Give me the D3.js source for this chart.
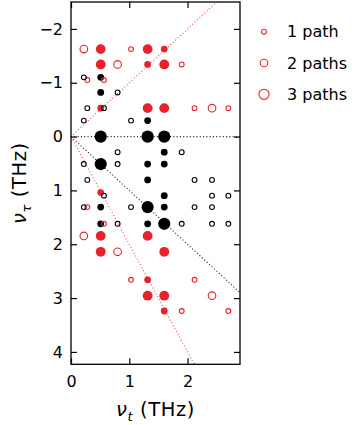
<!DOCTYPE html>
<html>
<head>
    <title>Paths map</title>
    <style>
        body { margin: 0; background: #fff; }
        svg text { font-family: "DejaVu Sans", sans-serif; font-size: 16px; fill: #000; }
        .frame { fill: none; stroke: #000; stroke-width: 1.3px; }
        .tick line { stroke: #000; stroke-width: 1.2px; }
        .guide { fill: none; stroke-width: 1.1px; stroke-dasharray: 1.1,2.2; }
        .axis-label { font-size: 19.5px; letter-spacing: 0.6px; }
    </style>
</head>
<body>
<div id="chart"></div>

<script src="https://d3js.org/d3.v7.min.js"></script>
<script>
    // [nu_t, nu_tau, number of paths]
    const filledRed = [
        [0.51, -1.625, 2], [1.315, -1.625, 2], [1.60, -1.625, 1],
        [0.51, -1.34, 2], [1.315, -1.34, 1], [1.60, -1.34, 2],
        [0.51, -0.528, 1], [1.315, -0.528, 2], [1.60, -0.528, 2],
        [0.51, 1.04, 1],
        [0.51, 1.845, 2], [1.315, 1.845, 2],
        [0.51, 2.14, 2], [1.60, 2.14, 2],
        [1.315, 2.66, 1],
        [1.315, 2.955, 2], [1.60, 2.955, 2],
        [1.60, 3.24, 1]
    ];

    const filledBlack = [
        [0.51, -1.10, 1],
        [0.51, -0.82, 1],
        [1.315, -0.297, 1],
        [0.51, 0, 3], [1.315, 0, 3], [1.60, 0, 3],
        [1.60, 0.29, 1],
        [0.51, 0.51, 3], [1.315, 0.51, 1], [1.60, 0.51, 1],
        [1.315, 0.805, 1],
        [1.60, 1.097, 1],
        [0.51, 1.31, 1], [1.315, 1.31, 3], [1.60, 1.31, 1],
        [0.51, 1.62, 1], [1.315, 1.62, 1], [1.60, 1.62, 3]
    ];

    const openRed = [
        [0.22, -1.625, 2], [1.03, -1.625, 1],
        [0.80, -1.34, 2], [1.90, -1.34, 1],
        [0.28, -1.05, 1], [0.565, -1.05, 1],
        [2.12, -0.528, 1], [2.42, -0.528, 2], [2.70, -0.528, 1],
        [0.28, 1.31, 1],
        [0.565, 1.62, 1],
        [0.22, 1.845, 2],
        [0.80, 2.14, 2],
        [1.03, 2.66, 1], [2.12, 2.66, 1],
        [2.42, 2.955, 2],
        [1.90, 3.24, 1], [2.70, 3.24, 1]
    ];

    const openBlack = [
        [0.22, -1.10, 1],
        [0.80, -0.82, 1],
        [0.28, -0.528, 1], [0.565, -0.528, 1],
        [0.22, -0.297, 1], [1.03, -0.297, 1],
        [0.80, 0.29, 1], [1.90, 0.29, 1],
        [0.22, 0.51, 1], [0.80, 0.51, 1],
        [0.28, 0.805, 1], [2.12, 0.805, 1], [2.42, 0.805, 1],
        [0.565, 1.097, 1], [2.42, 1.097, 1], [2.70, 1.097, 1],
        [0.22, 1.31, 1], [1.03, 1.31, 1], [2.12, 1.31, 1], [2.42, 1.31, 1],
        [0.80, 1.62, 1], [1.90, 1.62, 1], [2.42, 1.62, 1], [2.70, 1.62, 1]
    ];

    // dotted guides nu_tau = slope * nu_t
    const guides = [
        { slope: 0, color: "#000" },
        { slope: 1, color: "#000" },
        { slope: -1, color: "#e8222a" },
        { slope: 2, color: "#e8222a" }
    ];

    const legendLabels = ["1 path", "2 paths", "3 paths"];
    const xTicks = [0, 1, 2];
    const yTicks = [-2, -1, 0, 1, 2, 3, 4];

    const red = "#e8222a";
    const filledR = [0, 3.4, 4.9, 6.1];
    const openR = [0, 2.4, 3.8, 5.1];

    const width = 357, height = 425;
    const margin = { left: 71, top: 2, right: 117, bottom: 60.7 };
    const w = width - margin.left - margin.right;
    const h = height - margin.top - margin.bottom;

    const x = d3.scaleLinear().domain([0, 2.9]).range([0, w]);
    const y = d3.scaleLinear().domain([-2.5, 4.23]).range([0, h]);

    const svg = d3.select("#chart").append("svg")
        .attr("width", width)
        .attr("height", height);

    svg.append("defs").append("clipPath").attr("id", "plotClip")
        .append("rect").attr("width", w).attr("height", h);

    const g = svg.append("g")
        .attr("transform", `translate(${margin.left},${margin.top})`);

    const plot = g.append("g").attr("clip-path", "url(#plotClip)");

    plot.selectAll("line.guide")
        .data(guides)
        .enter().append("line")
        .attr("class", "guide")
        .attr("stroke", d => d.color)
        .attr("stroke-opacity", d => d.color === "#000" ? 0.85 : 0.75)
        .attr("x1", x(0))
        .attr("y1", y(0))
        .attr("x2", x(2.9))
        .attr("y2", d => y(d.slope * 2.9));

    function drawFilled(data, color) {
        plot.append("g").selectAll("circle")
            .data(data)
            .enter().append("circle")
            .attr("cx", d => x(d[0]))
            .attr("cy", d => y(d[1]))
            .attr("r", d => filledR[d[2]])
            .attr("fill", color);
    }

    function drawOpen(data, color) {
        plot.append("g").selectAll("circle")
            .data(data)
            .enter().append("circle")
            .attr("cx", d => x(d[0]))
            .attr("cy", d => y(d[1]))
            .attr("r", d => openR[d[2]])
            .attr("fill", "none")
            .attr("stroke", color)
            .attr("stroke-width", 1.1);
    }

    drawFilled(filledRed, red);
    drawFilled(filledBlack, "#000");
    drawOpen(openRed, red);
    drawOpen(openBlack, "#000");

    // axes, ticks pointing inward on all four sides
    const tick = 6;
    g.append("g")
        .attr("transform", `translate(0,${h})`)
        .call(d3.axisBottom(x).tickValues(xTicks).tickFormat(d3.format("d"))
            .tickSizeInner(-tick).tickSizeOuter(0).tickPadding(11))
        .call(a => a.select(".domain").remove());

    g.append("g")
        .call(d3.axisTop(x).tickValues(xTicks).tickFormat("")
            .tickSizeInner(-tick).tickSizeOuter(0))
        .call(a => a.select(".domain").remove());

    g.append("g")
        .call(d3.axisLeft(y).tickValues(yTicks).tickFormat(d3.format("d"))
            .tickSizeInner(-tick).tickSizeOuter(0).tickPadding(8))
        .call(a => a.select(".domain").remove());

    g.append("g")
        .attr("transform", `translate(${w},0)`)
        .call(d3.axisRight(y).tickValues(yTicks).tickFormat("")
            .tickSizeInner(-tick).tickSizeOuter(0))
        .call(a => a.select(".domain").remove());

    // let the css font apply to tick labels
    g.selectAll("g").attr("font-family", null).attr("font-size", null);

    g.append("rect")
        .attr("class", "frame")
        .attr("width", w)
        .attr("height", h);

    // axis labels
    const xl = svg.append("text")
        .attr("class", "axis-label")
        .attr("x", margin.left + w / 2)
        .attr("y", 416)
        .attr("text-anchor", "middle");
    xl.append("tspan").attr("font-style", "italic").text("ν");
    xl.append("tspan").attr("font-style", "italic").attr("font-size", "13px").attr("dy", 5).text("t");
    xl.append("tspan").attr("dy", -5).text(" (THz)");

    const yl = svg.append("text")
        .attr("class", "axis-label")
        .attr("transform", `translate(26,${margin.top + h / 2}) rotate(-90)`)
        .attr("text-anchor", "middle");
    yl.append("tspan").attr("font-style", "italic").text("ν");
    yl.append("tspan").attr("font-style", "italic").attr("font-size", "13px").attr("dy", 5).text("τ");
    yl.append("tspan").attr("dy", -5).text(" (THz)");

    // legend
    const legend = svg.append("g").attr("transform", "translate(264,0)");
    const items = legend.selectAll("g")
        .data(legendLabels)
        .enter().append("g")
        .attr("transform", (d, i) => `translate(0,${31.7 + i * 31.3})`);
    items.append("circle")
        .attr("r", (d, i) => openR[i + 1])
        .attr("fill", "none")
        .attr("stroke", red)
        .attr("stroke-width", 1.1);
    items.append("text")
        .attr("x", 23)
        .attr("dy", "0.36em")
        .text(d => d);
</script>
</body>
</html>
